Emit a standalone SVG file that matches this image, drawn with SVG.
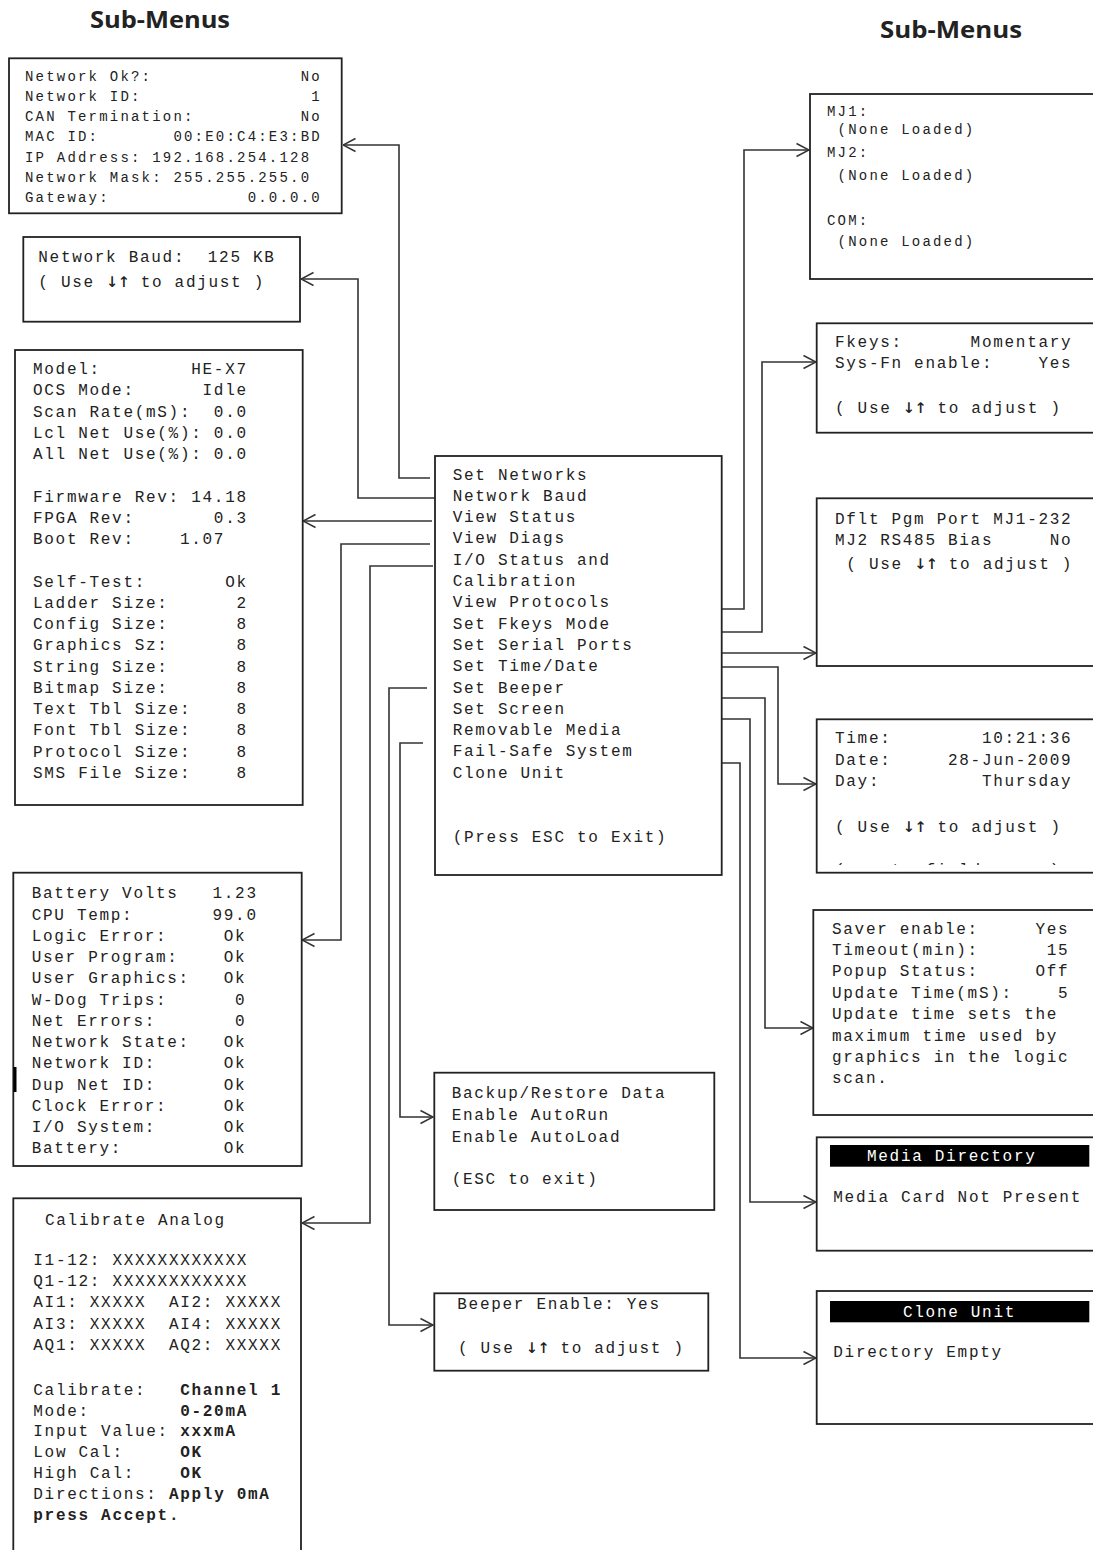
<svg xmlns="http://www.w3.org/2000/svg" width="1093" height="1550" viewBox="0 0 1093 1550" xml:space="preserve">
<style>
.box{fill:#fff;stroke:#222;stroke-width:1.8}
.t{font-family:"Liberation Mono","DejaVu Sans Mono",monospace;font-size:16px;letter-spacing:1.7px;fill:#222;white-space:pre}
.sm{font-size:14px;letter-spacing:2.2px}
.b{font-weight:bold}
.ar{font-family:"DejaVu Sans Mono",monospace;font-size:20px;letter-spacing:-0.4px}
.hbar{fill:#000}
.ht{fill:#fff}
.title{font-family:"Open Sans","Liberation Sans",sans-serif;font-weight:700;font-size:24px;fill:#222}
.c{fill:none;stroke:#333;stroke-width:1.6}
</style>
<defs>
<marker id="ah" viewBox="0 0 14 16" refX="13.5" refY="8" markerWidth="14" markerHeight="16" orient="auto" markerUnits="userSpaceOnUse"><path d="M1,1.5 L13.5,8 L1,14.5" fill="none" stroke="#333" stroke-width="1.5"/></marker>
<clipPath id="clipT"><rect x="817" y="840" width="280" height="25"/></clipPath>
</defs>
<rect width="1093" height="1550" fill="#fff"/>
<text class="title" x="90" y="28" textLength="140" lengthAdjust="spacingAndGlyphs">Sub-Menus</text>
<text class="title" x="880" y="38" textLength="142" lengthAdjust="spacingAndGlyphs">Sub-Menus</text>

<g id="connectors">
<path class="c" d="M430,478 H399 V145 H343" marker-end="url(#ah)"/>
<path class="c" d="M435,498 H358 V279 H301" marker-end="url(#ah)"/>
<path class="c" d="M432,521 H303" marker-end="url(#ah)"/>
<path class="c" d="M430,544 H341 V940 H302" marker-end="url(#ah)"/>
<path class="c" d="M433,566 H370 V1223 H302" marker-end="url(#ah)"/>
<path class="c" d="M427,688 H389 V1325 H433" marker-end="url(#ah)"/>
<path class="c" d="M423,743 H400 V1117 H433" marker-end="url(#ah)"/>
<path class="c" d="M722,609 H744 V150 H809" marker-end="url(#ah)"/>
<path class="c" d="M722,632 H762 V362 H816" marker-end="url(#ah)"/>
<path class="c" d="M722,653 H816" marker-end="url(#ah)"/>
<path class="c" d="M722,667 H778 V784 H816" marker-end="url(#ah)"/>
<path class="c" d="M722,698 H765 V1028 H813" marker-end="url(#ah)"/>
<path class="c" d="M722,719 H750 V1202 H816" marker-end="url(#ah)"/>
<path class="c" d="M722,763 H740 V1358 H816" marker-end="url(#ah)"/>
</g>

<g id="network">
<rect class="box" x="9" y="58.3" width="332.7" height="155"/>
<text class="t sm" x="25" y="80.5">Network Ok?:              No</text>
<text class="t sm" x="25" y="100.8">Network ID:                1</text>
<text class="t sm" x="25" y="121.1">CAN Termination:          No</text>
<text class="t sm" x="25" y="141.4">MAC ID:       00:E0:C4:E3:BD</text>
<text class="t sm" x="25" y="161.7">IP Address: 192.168.254.128</text>
<text class="t sm" x="25" y="182">Network Mask: 255.255.255.0</text>
<text class="t sm" x="25" y="201.5">Gateway:             0.0.0.0</text>
</g>

<g id="baud">
<rect class="box" x="23.3" y="237" width="276.7" height="84.7"/>
<text class="t" x="38.3" y="261.5">Network Baud:  125 KB</text>
<text class="t" x="38.3" y="287">( Use <tspan class="ar">↓↑</tspan> to adjust )</text>
</g>

<g id="status">
<rect class="box" x="15" y="350" width="287.7" height="455"/>
<text class="t" x="33" y="374">Model:        HE-X7</text>
<text class="t" x="33" y="395.25">OCS Mode:      Idle</text>
<text class="t" x="33" y="416.5">Scan Rate(mS):  0.0</text>
<text class="t" x="33" y="437.75">Lcl Net Use(%): 0.0</text>
<text class="t" x="33" y="459">All Net Use(%): 0.0</text>
<text class="t" x="33" y="501.5">Firmware Rev: 14.18</text>
<text class="t" x="33" y="522.75">FPGA Rev:       0.3</text>
<text class="t" x="33" y="544">Boot Rev:    1.07</text>
<text class="t" x="33" y="586.5">Self-Test:       Ok</text>
<text class="t" x="33" y="607.75">Ladder Size:      2</text>
<text class="t" x="33" y="629">Config Size:      8</text>
<text class="t" x="33" y="650.25">Graphics Sz:      8</text>
<text class="t" x="33" y="671.5">String Size:      8</text>
<text class="t" x="33" y="692.75">Bitmap Size:      8</text>
<text class="t" x="33" y="714">Text Tbl Size:    8</text>
<text class="t" x="33" y="735.25">Font Tbl Size:    8</text>
<text class="t" x="33" y="756.5">Protocol Size:    8</text>
<text class="t" x="33" y="777.75">SMS File Size:    8</text>
</g>

<g id="mainmenu">
<rect class="box" x="435" y="456" width="286.7" height="419"/>
<text class="t" x="452.7" y="479.5">Set Networks</text>
<text class="t" x="452.7" y="500.8">Network Baud</text>
<text class="t" x="452.7" y="522.1">View Status</text>
<text class="t" x="452.7" y="543.4">View Diags</text>
<text class="t" x="452.7" y="564.7">I/O Status and</text>
<text class="t" x="452.7" y="586">Calibration</text>
<text class="t" x="452.7" y="607.3">View Protocols</text>
<text class="t" x="452.7" y="628.6">Set Fkeys Mode</text>
<text class="t" x="452.7" y="649.9">Set Serial Ports</text>
<text class="t" x="452.7" y="671.2">Set Time/Date</text>
<text class="t" x="452.7" y="692.5">Set Beeper</text>
<text class="t" x="452.7" y="713.8">Set Screen</text>
<text class="t" x="452.7" y="735.1">Removable Media</text>
<text class="t" x="452.7" y="756.4">Fail-Safe System</text>
<text class="t" x="452.7" y="777.7">Clone Unit</text>
<text class="t" x="452.7" y="841.6">(Press ESC to Exit)</text>
</g>

<g id="protocols">
<rect class="box" x="810" y="94" width="300" height="185"/>
<text class="t sm" x="827" y="116">MJ1:</text>
<text class="t sm" x="827" y="134"> (None Loaded)</text>
<text class="t sm" x="827" y="156.5">MJ2:</text>
<text class="t sm" x="827" y="180"> (None Loaded)</text>
<text class="t sm" x="827" y="224.5">COM:</text>
<text class="t sm" x="827" y="245.5"> (None Loaded)</text>
</g>

<g id="fkeys">
<rect class="box" x="816.7" y="323.3" width="300" height="109.4"/>
<text class="t" x="835" y="347">Fkeys:      Momentary</text>
<text class="t" x="835" y="368">Sys-Fn enable:    Yes</text>
<text class="t" x="835" y="413">( Use <tspan class="ar">↓↑</tspan> to adjust )</text>
</g>

<g id="serial">
<rect class="box" x="816.7" y="498.3" width="300" height="167.7"/>
<text class="t" x="835" y="523.5">Dflt Pgm Port MJ1-232</text>
<text class="t" x="835" y="545">MJ2 RS485 Bias     No</text>
<text class="t" x="835" y="569"> ( Use <tspan class="ar">↓↑</tspan> to adjust )</text>
</g>

<g id="timedate">
<rect class="box" x="816.7" y="719.3" width="300" height="153.4"/>
<text class="t" x="835" y="742.5">Time:        10:21:36</text>
<text class="t" x="835" y="764.5">Date:     28-Jun-2009</text>
<text class="t" x="835" y="786">Day:         Thursday</text>
<text class="t" x="835" y="831.5">( Use <tspan class="ar">↓↑</tspan> to adjust )</text>
<text class="t" x="835" y="875" clip-path="url(#clipT)">( ←→ to field      )</text>
</g>

<g id="screen">
<rect class="box" x="813.3" y="910" width="300" height="205"/>
<text class="t" x="832" y="933.6">Saver enable:     Yes</text>
<text class="t" x="832" y="955">Timeout(min):      15</text>
<text class="t" x="832" y="976.4">Popup Status:     Off</text>
<text class="t" x="832" y="997.8">Update Time(mS):    5</text>
<text class="t" x="832" y="1019.2">Update time sets the</text>
<text class="t" x="832" y="1040.6">maximum time used by</text>
<text class="t" x="832" y="1062">graphics in the logic</text>
<text class="t" x="832" y="1083.4">scan.</text>
</g>

<g id="media">
<rect class="box" x="816.7" y="1137.3" width="300" height="113.4"/>
<rect class="hbar" x="830" y="1145" width="259.3" height="21.7"/>
<text class="t ht" x="867" y="1161.3">Media Directory</text>
<text class="t" x="833.3" y="1202">Media Card Not Present</text>
</g>

<g id="clone">
<rect class="box" x="816.7" y="1291" width="300" height="133"/>
<rect class="hbar" x="830" y="1301" width="259.3" height="21.3"/>
<text class="t ht" x="903" y="1317">Clone Unit</text>
<text class="t" x="833.3" y="1357">Directory Empty</text>
</g>

<g id="diags">
<rect class="box" x="13.3" y="872.7" width="288.4" height="293.3"/>
<rect x="13.5" y="1067" width="3" height="25" fill="#000"/>
<text class="t" x="31.7" y="898.3">Battery Volts   1.23</text>
<text class="t" x="31.7" y="919.5">CPU Temp:       99.0</text>
<text class="t" x="31.7" y="940.8">Logic Error:     Ok</text>
<text class="t" x="31.7" y="962">User Program:    Ok</text>
<text class="t" x="31.7" y="983.3">User Graphics:   Ok</text>
<text class="t" x="31.7" y="1004.5">W-Dog Trips:      0</text>
<text class="t" x="31.7" y="1025.8">Net Errors:       0</text>
<text class="t" x="31.7" y="1047">Network State:   Ok</text>
<text class="t" x="31.7" y="1068.3">Network ID:      Ok</text>
<text class="t" x="31.7" y="1089.5">Dup Net ID:      Ok</text>
<text class="t" x="31.7" y="1110.8">Clock Error:     Ok</text>
<text class="t" x="31.7" y="1132">I/O System:      Ok</text>
<text class="t" x="31.7" y="1153.3">Battery:         Ok</text>
</g>

<g id="calibrate">
<rect class="box" x="13.3" y="1198.3" width="287.7" height="400"/>
<text class="t" x="45" y="1224.5">Calibrate Analog</text>
<text class="t" x="33.3" y="1265">I1-12: XXXXXXXXXXXX</text>
<text class="t" x="33.3" y="1286">Q1-12: XXXXXXXXXXXX</text>
<text class="t" x="33.3" y="1307">AI1: XXXXX  AI2: XXXXX</text>
<text class="t" x="33.3" y="1329">AI3: XXXXX  AI4: XXXXX</text>
<text class="t" x="33.3" y="1350">AQ1: XXXXX  AQ2: XXXXX</text>
<text class="t" x="33.3" y="1394.5">Calibrate:   <tspan class="b">Channel 1</tspan></text>
<text class="t" x="33.3" y="1416">Mode:        <tspan class="b">0-20mA</tspan></text>
<text class="t" x="33.3" y="1436">Input Value: <tspan class="b">xxxmA</tspan></text>
<text class="t" x="33.3" y="1457">Low Cal:     <tspan class="b">OK</tspan></text>
<text class="t" x="33.3" y="1477.5">High Cal:    <tspan class="b">OK</tspan></text>
<text class="t" x="33.3" y="1499">Directions: <tspan class="b">Apply 0mA</tspan></text>
<text class="t b" x="33.3" y="1520">press Accept.</text>
</g>

<g id="failsafe">
<rect class="box" x="434.3" y="1072.7" width="280" height="137.3"/>
<text class="t" x="451.7" y="1098">Backup/Restore Data</text>
<text class="t" x="451.7" y="1120">Enable AutoRun</text>
<text class="t" x="451.7" y="1141.5">Enable AutoLoad</text>
<text class="t" x="451.7" y="1184">(ESC to exit)</text>
</g>

<g id="beeper">
<rect class="box" x="434.3" y="1293.3" width="274" height="77.4"/>
<text class="t" x="457.3" y="1308.5">Beeper Enable: Yes</text>
<text class="t" x="458" y="1352.6">( Use <tspan class="ar">↓↑</tspan> to adjust )</text>
</g>
</svg>
